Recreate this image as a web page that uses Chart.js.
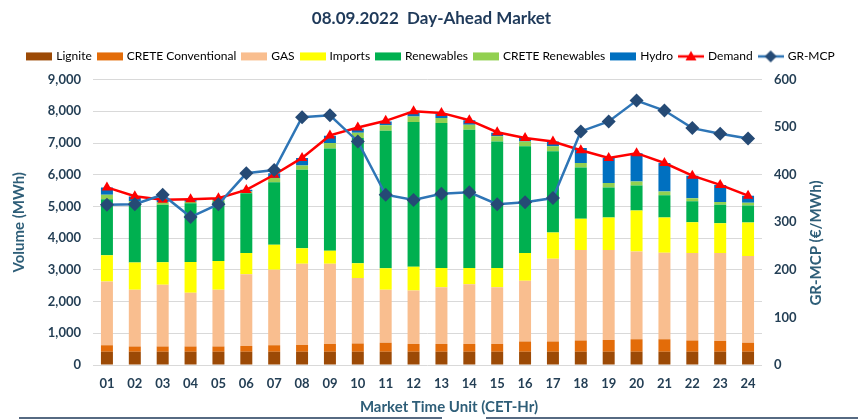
<!DOCTYPE html>
<html>
<head>
<meta charset="utf-8">
<script src="https://cdn.jsdelivr.net/npm/chart.js@4.4.0/dist/chart.umd.min.js"></script>
<style>
  html, body { margin: 0; padding: 0; background: #fff; }
  #wrap { width: 865px; height: 419px; }
</style>
</head>
<body>
<div id="wrap"><canvas id="dam" width="865" height="419"></canvas></div>
<script>
var hours = ['01','02','03','04','05','06','07','08','09','10','11','12','13','14','15','16','17','18','19','20','21','22','23','24'];

var lignite = [420,420,420,420,420,420,420,420,420,420,420,420,420,420,420,420,420,420,420,420,420,420,420,420];
var creteConv = [200,160,160,160,160,180,200,210,240,260,280,240,240,240,240,320,320,350,370,390,390,350,340,280];
var gas = [2010,1790,1950,1700,1790,2260,2380,2560,2530,2060,1670,1690,1790,1890,1790,1920,2610,2860,2840,2770,2730,2760,2770,2740];
var imports = [830,860,710,970,910,670,790,490,410,470,680,750,610,510,610,870,830,980,1020,1290,1110,970,940,1050];
var renewables = [1770,1820,1810,1850,1880,1890,1970,2480,3230,3950,4340,4560,4570,4360,3990,3370,2560,1620,950,790,700,660,580,540];
var creteRen = [136,110,80,50,40,50,140,130,170,160,170,180,160,160,160,150,160,140,140,130,120,100,90,90];
var hydro = [230,150,70,50,50,60,150,240,230,130,120,130,130,140,110,110,150,470,790,890,900,710,540,220];
var demand = [5600,5320,5210,5230,5260,5520,6000,6530,7240,7490,7700,8000,7950,7720,7340,7160,7050,6770,6530,6680,6370,5970,5680,5340];
var mcp = [337,338,358,311,338,403,410,521,525,470,358,347,360,363,338,342,351,491,512,556,535,498,486,476];

var volTicks = [0,1000,2000,3000,4000,5000,6000,7000,8000,9000];
var priceTicks = [0,100,200,300,400,500,600];

var tickColor = '#243F55';
var titleColor = '#2E5E78';
var font = 'Lato, "DejaVu Sans", sans-serif';

function barSet(label, data, color) {
    return {
        type: 'bar', label: label, data: data, backgroundColor: color,
        yAxisID: 'y', stack: 'vol', order: 3,
        barPercentage: 0.43, categoryPercentage: 1.0
    };
}

// legend icons
function iconBar(color) {
    var c = document.createElement('canvas');
    c.width = 26; c.height = 12;
    var g = c.getContext('2d');
    g.fillStyle = color;
    g.fillRect(0, 2, 26, 8);
    return c;
}
function iconLine(lineColor, markColor, shape) {
    var c = document.createElement('canvas');
    c.width = 26; c.height = 14;
    var g = c.getContext('2d');
    g.strokeStyle = lineColor; g.lineWidth = 2.5;
    g.beginPath(); g.moveTo(0, 7); g.lineTo(26, 7); g.stroke();
    g.fillStyle = markColor;
    g.beginPath();
    if (shape === 'tri') {
        g.moveTo(13, 1.5); g.lineTo(18.5, 11); g.lineTo(7.5, 11);
    } else {
        g.moveTo(13, 1); g.lineTo(19, 7); g.lineTo(13, 13); g.lineTo(7, 7);
    }
    g.closePath(); g.fill();
    return c;
}

var datasets = [
    barSet('Lignite', lignite, '#9C4A06'),
    barSet('CRETE Conventional', creteConv, '#E36C09'),
    barSet('GAS', gas, '#F9BE8F'),
    barSet('Imports', imports, '#FFFF00'),
    barSet('Renewables', renewables, '#00B050'),
    barSet('CRETE Renewables', creteRen, '#92D050'),
    barSet('Hydro', hydro, '#0070C0'),
    {
        type: 'line', label: 'Demand', data: demand, yAxisID: 'y', order: 2,
        borderColor: '#FF0000', backgroundColor: '#FF0000', borderWidth: 2.5,
        pointStyle: 'triangle', pointRadius: 6, pointBackgroundColor: '#FF0000', pointBorderWidth: 0,
        tension: 0
    },
    {
        type: 'line', label: 'GR-MCP', data: mcp, yAxisID: 'y1', order: 1,
        borderColor: '#2E75B6', backgroundColor: '#254A75', borderWidth: 2.5,
        pointStyle: 'rectRot', pointRadius: 7, pointBackgroundColor: '#254A75', pointBorderWidth: 0,
        tension: 0
    }
];

var icons = [
    iconBar('#9C4A06'), iconBar('#E36C09'), iconBar('#F9BE8F'), iconBar('#FFFF00'),
    iconBar('#00B050'), iconBar('#92D050'), iconBar('#0070C0'),
    iconLine('#FF0000', '#FF0000', 'tri'), iconLine('#2E75B6', '#254A75', 'dia')
];

var extras = {
    id: 'extras',
    afterDraw: function(chart) {
        var ctx = chart.ctx;
        ctx.save();
        ctx.fillStyle = titleColor;
        ctx.font = 'bold 15px ' + font;
        ctx.textAlign = 'center';
        ctx.textBaseline = 'middle';
        ctx.fillText('Market Time Unit (CET-Hr)', 449, 407);
        ctx.translate(816, 243);
        ctx.rotate(-Math.PI / 2);
        ctx.fillText('GR-MCP (\u20AC/MWh)', 0, 0);
        ctx.restore();
        ctx.save();
        ctx.strokeStyle = '#1F3A5A';
        ctx.lineWidth = 1.5;
        ctx.beginPath();
        ctx.moveTo(19, 418); ctx.lineTo(442, 418);
        ctx.moveTo(486, 418); ctx.lineTo(858, 418);
        ctx.stroke();
        ctx.restore();
    }
};

new Chart(document.getElementById('dam'), {
    data: { labels: hours, datasets: datasets },
    plugins: [extras],
    options: {
        responsive: false,
        animation: false,
        layout: { padding: { left: 8, right: 10, top: 4, bottom: 4 } },
        plugins: {
            title: {
                display: true, text: '08.09.2022  Day-Ahead Market',
                color: '#1F3A5A', font: { family: font, size: 17, weight: 'bold' },
                padding: { top: 4, bottom: 15 }
            },
            // empty spacer placed under the legend
            subtitle: {
                display: true, text: '', weight: 500,
                font: { size: 1 }, padding: { top: 0, bottom: 6 }
            },
            legend: {
                display: true,
                labels: {
                    usePointStyle: true, pointStyleWidth: 22, boxHeight: 12,
                    color: '#262626', font: { family: font, size: 12 }, padding: 7,
                    generateLabels: function(chart) {
                        return chart.data.datasets.map(function(ds, i) {
                            return { text: ds.label, pointStyle: icons[i], datasetIndex: i,
                                     fillStyle: 'transparent', strokeStyle: 'transparent', lineWidth: 0, hidden: false };
                        });
                    }
                },
                onClick: function() {}
            },
            tooltip: { enabled: false }
        },
        scales: {
            x: {
                stacked: true,
                grid: { display: false },
                border: { display: false },
                ticks: { color: tickColor, font: { family: font, size: 13, weight: 'bold' }, padding: 3 },
                afterFit: function(s) { s.height = 50; }
            },
            y: {
                position: 'left', stacked: true, min: 0, max: 9000,
                afterBuildTicks: function(s) { s.ticks = volTicks.map(function(v) { return { value: v }; }); },
                ticks: {
                    color: tickColor, font: { family: font, size: 13, weight: 'bold' }, padding: 12,
                    callback: function(v) { return v.toLocaleString('en-US'); }
                },
                grid: { color: '#D9D9D9', drawTicks: false },
                border: { display: false },
                title: { display: true, text: 'Volume (MWh)', color: titleColor, font: { family: font, size: 15, weight: 'bold' }, padding: 2 },
                afterFit: function(s) { s.width = 85; }
            },
            y1: {
                position: 'right', min: 0, max: 600,
                afterBuildTicks: function(s) { s.ticks = priceTicks.map(function(v) { return { value: v }; }); },
                ticks: { color: tickColor, font: { family: font, size: 13, weight: 'bold' }, padding: 12 },
                grid: { display: false, drawTicks: false },
                border: { display: false },
                afterFit: function(s) { s.width = 93; }
            }
        }
    }
});
</script>
</body>
</html>
